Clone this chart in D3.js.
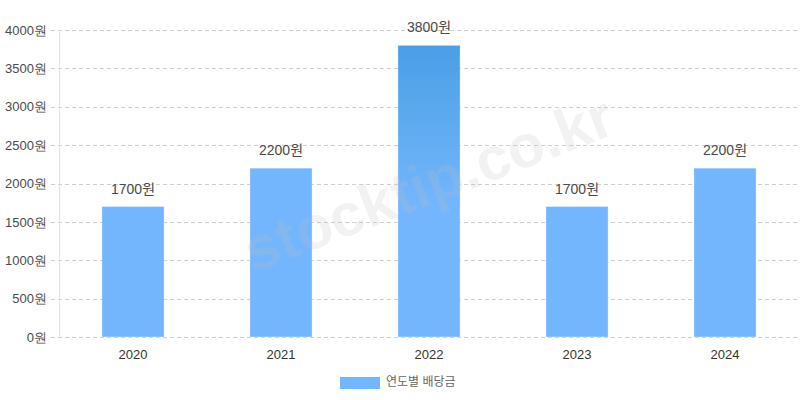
<!DOCTYPE html>
<html><head><meta charset="utf-8">
<script src="https://cdn.jsdelivr.net/npm/d3@7"></script>
<style>
html,body{margin:0;padding:0;background:#fff;}
svg{display:block;font-family:"Liberation Sans",Arial,"Noto Sans CJK KR",sans-serif;}
</style></head>
<body><svg id="c" width="800" height="400"></svg>
<script>
const years = ["2020","2021","2022","2023","2024"];
const dividends = [1700, 2200, 3800, 1700, 2200];
const yTicks = [0,500,1000,1500,2000,2500,3000,3500,4000];
const seriesName = "연도별 배당금";
const unit = "원";

const svg = d3.select("#c");
const x = d3.scaleBand().domain(years).range([59, 799]).paddingInner(0.58).paddingOuter(0.29);
const y = d3.scaleLinear().domain([0, 4000]).range([337, 30]);

// grid
const grid = svg.append("g");
grid.selectAll("line").data(yTicks).join("line")
  .attr("x1",51).attr("x2",799).attr("y1",d=>Math.round(y(d))+0.5).attr("y2",d=>Math.round(y(d))+0.5)
  .attr("stroke","#cfcfcf").attr("stroke-dasharray","4,3");
svg.append("line").attr("x1",59.5).attr("x2",59.5).attr("y1",30).attr("y2",337)
  .attr("stroke","#e0e0e0");

// y axis labels
const yAxis = d3.axisLeft(y).tickValues(yTicks).tickSize(0).tickPadding(0).tickFormat(d=>d+unit);
const ya = svg.append("g").attr("transform","translate(47,0)").call(yAxis);
ya.select(".domain").remove();
ya.selectAll("text").attr("font-size",13).attr("fill","#4a4a4a").attr("font-family",null);

// x axis labels
const xAxis = d3.axisBottom(x).tickSize(0).tickPadding(0);
const xa = svg.append("g").attr("transform","translate(0,350)").call(xAxis);
xa.select(".domain").remove();
xa.selectAll("text").attr("font-size",13).attr("fill","#333").attr("font-family",null);

// gradient for max bar
const defs = svg.append("defs");
const grad = defs.append("linearGradient").attr("id","g1").attr("x1",0).attr("x2",0).attr("y1",0).attr("y2",1);
grad.append("stop").attr("offset","0%").attr("stop-color","#4a9fe5");
grad.append("stop").attr("offset","55%").attr("stop-color","#74b6fd");
grad.append("stop").attr("offset","100%").attr("stop-color","#74b6fd");

const maxV = d3.max(dividends);
const data = years.map((yr,i)=>({yr, v:dividends[i]}));
svg.append("g").selectAll("rect").data(data).join("rect")
  .attr("x",d=>x(d.yr)).attr("width",x.bandwidth())
  .attr("y",d=>y(d.v)).attr("height",d=>y(0)-y(d.v))
  .attr("fill",d=>d.v===maxV?"url(#g1)":"#74b6fd")
  .attr("stroke","rgba(255,255,255,0.35)").attr("stroke-width",1);

svg.append("g").selectAll("text").data(data).join("text")
  .attr("x",d=>x(d.yr)+x.bandwidth()/2).attr("y",d=>y(d.v)-13)
  .attr("text-anchor","middle").attr("font-size",14).attr("fill","#4a4a4a")
  .text(d=>d.v+unit);

// legend
svg.append("rect").attr("x",340).attr("y",377).attr("width",40).attr("height",12).attr("fill","#74b6fd");
svg.append("text").attr("x",386).attr("y",383).attr("dominant-baseline","middle")
  .attr("font-size",12).attr("fill","#666").text(seriesName);

// watermark (on top)
svg.append("text").attr("transform","translate(430,188) rotate(-21)")
  .attr("text-anchor","middle").attr("dominant-baseline","middle")
  .attr("font-size",60).attr("font-weight","bold").attr("fill","rgba(190,190,190,0.2)")
  .text("stocktip.co.kr");
</script></body></html>
